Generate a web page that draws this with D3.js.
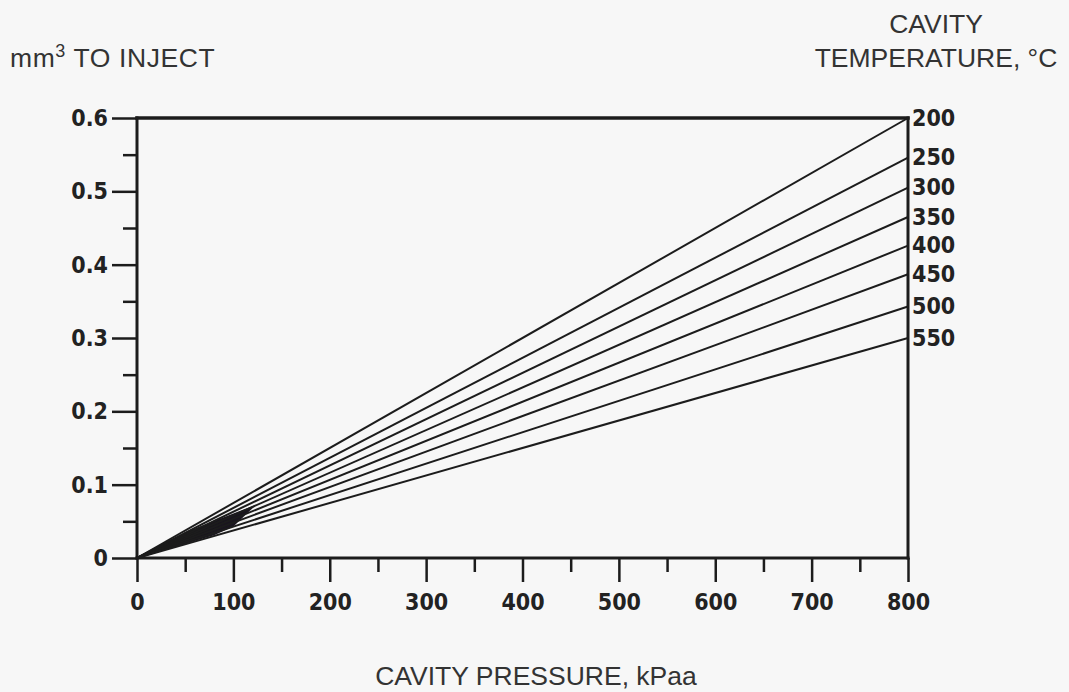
<!DOCTYPE html>
<html>
<head>
<meta charset="utf-8">
<script src="https://cdn.jsdelivr.net/npm/d3@7"></script>
<style>
  html, body { margin: 0; padding: 0; background: #f7f7f7; }
  svg { display: block; }
  .title { font-family: "Liberation Sans", Arial, sans-serif; font-size: 26.5px; fill: #333; }
  .tick text { font-family: "DejaVu Sans Condensed", "DejaVu Sans", sans-serif; font-weight: bold; font-size: 23px; fill: #222; }
  .serieslabel { font-family: "DejaVu Sans Condensed", "DejaVu Sans", sans-serif; font-weight: bold; font-size: 23px; fill: #222; }
</style>
</head>
<body>
<svg width="1069" height="692"></svg>
<script>
const temps = [200, 250, 300, 350, 400, 450, 500, 550];
const valuesAt800 = [0.6, 0.546, 0.505, 0.465, 0.426, 0.387, 0.343, 0.30];
const pressures = [0, 800];

const xTicks = [0, 100, 200, 300, 400, 500, 600, 700, 800];
const xMinor = [50, 150, 250, 350, 450, 550, 650, 750];
const yTicks = [0, 0.1, 0.2, 0.3, 0.4, 0.5, 0.6];
const yMinor = [0.05, 0.15, 0.25, 0.35, 0.45, 0.55];

// dark smudge near the origin where the lines run together
const smudge = [[0, 0], [50, 0.035], [124, 0.073], [100, 0.043], [80, 0.031], [17, 0.006]];

const svg = d3.select("svg");
const ink = "#1c1c1c";

const x = d3.scaleLinear().domain([0, 800]).range([137, 908]);
const y = d3.scaleLinear().domain([0, 0.6]).range([558, 118]);

// y axis, ticks point left
const yAxis = svg.append("g")
    .attr("transform", `translate(${x(0)},0)`)
    .call(d3.axisLeft(y).tickValues(yTicks).tickSize(25).tickPadding(4)
        .tickFormat(d => d === 0 ? "0" : d3.format(".1f")(d)));
yAxis.append("g").call(d3.axisLeft(y).tickValues(yMinor).tickSize(14).tickFormat(""));

// x axis, ticks point down
const xAxis = svg.append("g")
    .attr("transform", `translate(0,${y(0)})`)
    .call(d3.axisBottom(x).tickValues(xTicks).tickSize(24).tickPadding(12));
xAxis.append("g").call(d3.axisBottom(x).tickValues(xMinor).tickSize(14).tickFormat(""));

svg.selectAll(".domain").remove();
svg.selectAll(".tick line").attr("stroke", ink).attr("stroke-width", 2.5);

// frame: left, bottom, top, right
const frame = [
  [x(0), y(0.6), x(0), y(0)],
  [x(0), y(0), x(800), y(0)],
  [x(0), y(0.6), x(800), y(0.6)],
  [x(800), y(0.6), x(800), y(0)]
];
svg.append("g").selectAll("line")
  .data(frame)
  .enter()
  .append("line")
  .attr("x1", d => d[0]).attr("y1", d => d[1])
  .attr("x2", d => d[2]).attr("y2", d => d[3])
  .attr("stroke", ink)
  .attr("stroke-width", d => d[1] === d[3] && d[1] === y(0.6) ? 3.5 : 3)
  .attr("stroke-linecap", "square");

// smudge
svg.append("path")
  .datum(smudge)
  .attr("d", d3.line().x(d => x(d[0])).y(d => y(d[1])).curve(d3.curveLinearClosed))
  .attr("fill", "#1a1520");

// lines
const series = temps.map((t, i) => ({ t, pts: pressures.map(p => [p, p === 0 ? 0 : valuesAt800[i]]) }));
const line = d3.line().x(d => x(d[0])).y(d => y(d[1]));

svg.append("g").selectAll("path")
  .data(series)
  .enter()
  .append("path")
  .attr("d", d => line(d.pts))
  .attr("fill", "none")
  .attr("stroke", ink)
  .attr("stroke-width", 2);

svg.append("g").selectAll("text")
  .data(series)
  .enter()
  .append("text")
  .attr("class", "serieslabel")
  .attr("x", x(800) + 4)
  .attr("y", (d, i) => y(valuesAt800[i]) + 1)
  .attr("dominant-baseline", "middle")
  .text(d => d.t);

// titles
const t1 = svg.append("text").attr("class", "title").attr("x", 10).attr("y", 67)
  .attr("letter-spacing", 0.6);
t1.append("tspan").text("mm");
t1.append("tspan").attr("font-size", "18px").attr("dy", -10).text("3");
t1.append("tspan").attr("dy", 10).text(" TO INJECT");

svg.append("text").attr("class", "title")
  .attr("x", 936).attr("y", 33).attr("text-anchor", "middle").text("CAVITY");
svg.append("text").attr("class", "title")
  .attr("x", 936).attr("y", 67).attr("text-anchor", "middle").text("TEMPERATURE, °C");

svg.append("text").attr("class", "title")
  .attr("x", 536).attr("y", 685).attr("text-anchor", "middle").text("CAVITY PRESSURE, kPaa");
</script>
</body>
</html>
